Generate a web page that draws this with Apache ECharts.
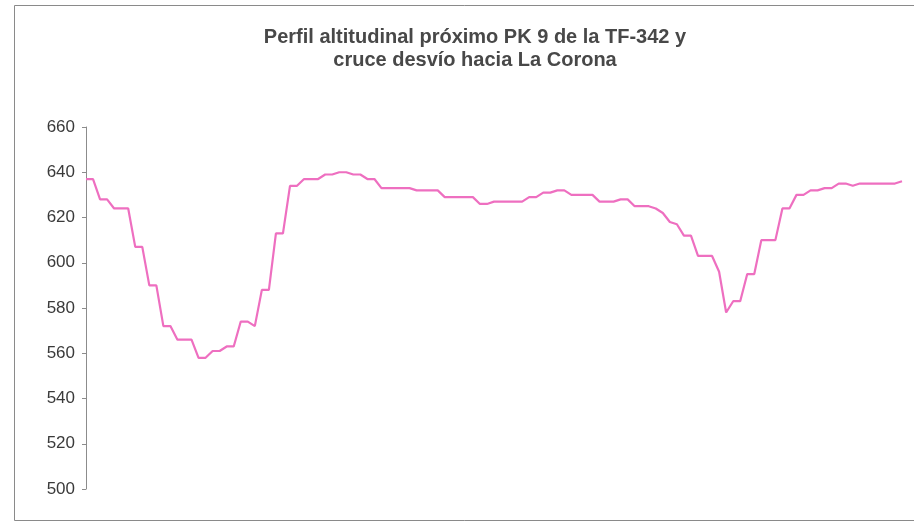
<!DOCTYPE html>
<html>
<head>
<meta charset="utf-8">
<script src="https://cdn.jsdelivr.net/npm/echarts@6/dist/echarts.min.js"></script>
<style>
html,body{margin:0;padding:0;background:#fff;}
#chart{width:914px;height:524px;}
</style>
</head>
<body>
<div id="chart"></div>
<script>
const titleText = "Perfil altitudinal próximo PK 9 de la TF-342 y\ncruce desvío hacia La Corona";
const yTicks = [500, 520, 540, 560, 580, 600, 620, 640, 660];
const altitude = [
  637, 637, 628, 628, 624, 624, 624, 607, 607, 590,
  590, 572, 572, 566, 566, 566, 558, 558, 561, 561,
  563, 563, 574, 574, 572, 588, 588, 613, 613, 634,
  634, 637, 637, 637, 639, 639, 640, 640, 639, 639,
  637, 637, 633, 633, 633, 633, 633, 632, 632, 632,
  632, 629, 629, 629, 629, 629, 626, 626, 627, 627,
  627, 627, 627, 629, 629, 631, 631, 632, 632, 630,
  630, 630, 630, 627, 627, 627, 628, 628, 625, 625,
  625, 624, 622, 618, 617, 612, 612, 603, 603, 603,
  596, 578, 583, 583, 595, 595, 610, 610, 610, 624,
  624, 630, 630, 632, 632, 633, 633, 635, 635, 634,
  635, 635, 635, 635, 635, 635, 636
];
const categories = altitude.map((_, i) => String(i + 1));

const chart = echarts.init(document.getElementById('chart'));
chart.setOption({
  animation: false,
  backgroundColor: '#ffffff',
  title: {
    text: titleText,
    left: 470,
    top: 21,
    textAlign: 'center',
    textStyle: {
      fontFamily: 'Liberation Sans, Arial, sans-serif',
      fontSize: 20,
      fontWeight: 'bold',
      color: '#484848',
      lineHeight: 23
    }
  },
  graphic: [
    {
      type: 'rect',
      shape: { x: 14.5, y: 5.5, width: 1000, height: 515 },
      style: { fill: 'none', stroke: '#8a8a8a', lineWidth: 1 },
      silent: true,
      z: -1
    }
  ],
  grid: { left: 86, right: 12, top: 127, bottom: 35 },
  xAxis: {
    type: 'category',
    data: categories,
    boundaryGap: false,
    show: false
  },
  yAxis: {
    type: 'value',
    min: yTicks[0],
    max: yTicks[yTicks.length - 1],
    interval: yTicks[1] - yTicks[0],
    axisLine: { show: true, lineStyle: { color: '#8c8c8c', width: 1 } },
    axisTick: { show: true, length: 4, lineStyle: { color: '#8c8c8c' } },
    splitLine: { show: false },
    axisLabel: {
      margin: 11,
      fontFamily: 'Liberation Sans, Arial, sans-serif',
      fontSize: 17,
      color: '#3a3a3a'
    }
  },
  series: [
    {
      type: 'line',
      data: altitude,
      symbol: 'none',
      lineStyle: { color: '#ee6fc0', width: 2.2 },
      itemStyle: { color: '#ee6fc0' }
    }
  ]
});
</script>
</body>
</html>
